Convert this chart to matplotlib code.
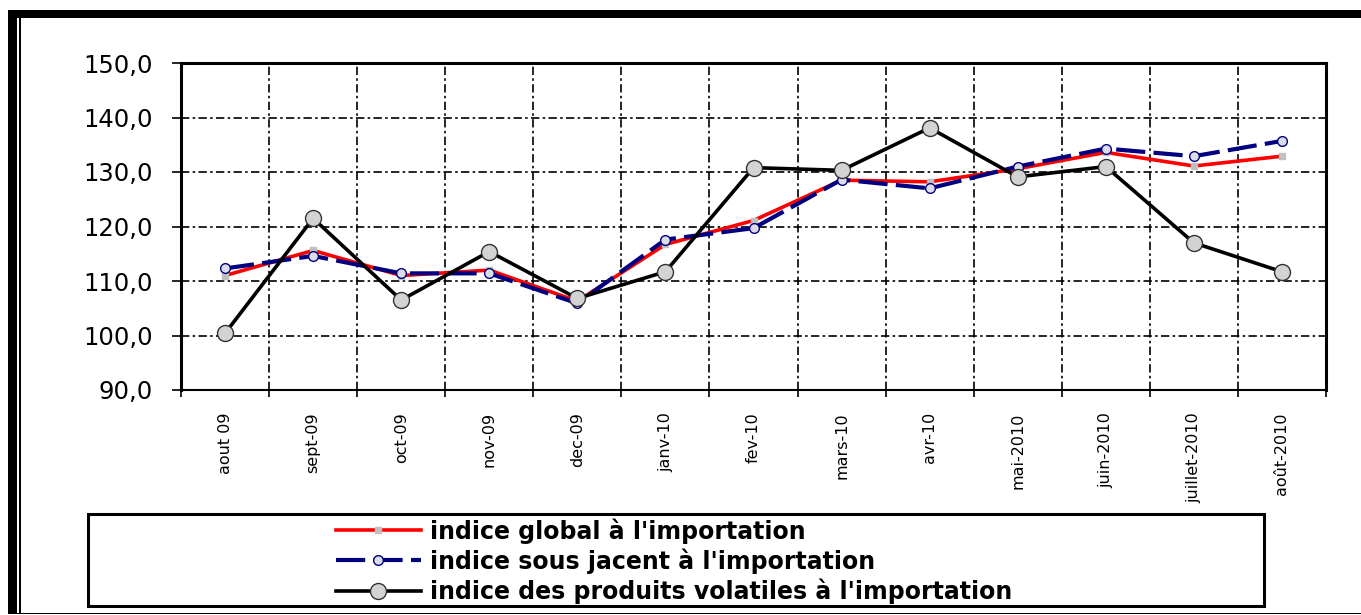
import matplotlib
matplotlib.use("Agg")
import matplotlib.pyplot as plt
from matplotlib.patches import Rectangle
from matplotlib.ticker import FixedLocator, MultipleLocator, FuncFormatter

plt.rcParams["font.family"] = ["DejaVu Sans"]

# ── données ──
mois = ["aout 09", "sept-09", "oct-09", "nov-09", "dec-09", "janv-10", "fev-10",
        "mars-10", "avr-10", "mai-2010", "juin-2010", "juillet-2010", "août-2010"]
indice_global = [111.0, 115.6, 111.0, 112.0, 106.3, 116.7, 121.1,
                 128.5, 128.2, 130.6, 133.6, 131.1, 132.9]
indice_sous_jacent = [112.3, 114.6, 111.4, 111.4, 105.9, 117.6, 119.7,
                      128.6, 127.0, 131.0, 134.3, 132.9, 135.7]
indice_volatils = [100.4, 121.5, 106.5, 115.4, 106.8, 111.7, 130.8,
                   130.3, 138.1, 129.1, 131.0, 117.0, 111.7]

W, H = 1361, 615
fig = plt.figure(figsize=(W / 100, H / 100), dpi=100)
ax = fig.add_axes([181 / W, 1 - 390 / H, (1326 - 181) / W, (390 - 63) / H])

x = list(range(len(mois)))

ax.plot(x, indice_global, color="#ff0000", lw=2.6, marker="s", ms=5,
        mfc="#c0c0c0", mec="#c0c0c0", label="indice global à l'importation", zorder=3)
ax.plot(x, indice_sous_jacent, color="#000080", lw=3, ls=(0, (7, 2)), marker="o", ms=7,
        mfc="#dcdce8", mec="#000080", mew=1, label="indice sous jacent à l'importation", zorder=4)
ax.plot(x, indice_volatils, color="black", lw=2.6, marker="o", ms=11.5,
        mfc="#d3d3d3", mec="#333333", mew=1, label="indice des produits volatiles à l'importation",
        zorder=5)

ax.set_xlim(-0.5, len(mois) - 0.5)
ax.set_ylim(90, 150)

# ticks
ax.yaxis.set_major_locator(MultipleLocator(10))
ax.yaxis.set_major_formatter(FuncFormatter(lambda v, p: f"{v:.1f}".replace(".", ",")))
ax.tick_params(axis="y", direction="out", length=6.5, width=1.2, pad=14, labelsize=17.5)

ax.set_xticks(x)
ax.set_xticklabels(mois, rotation=90, va="top", ha="center", fontsize=11.5)
ax.xaxis.set_minor_locator(FixedLocator([i + 0.5 for i in range(-1, len(mois))]))
ax.tick_params(axis="x", which="major", length=0, pad=16)
ax.tick_params(axis="x", which="minor", direction="out", length=5, width=1.2)

# grille pointillée
grid_style = dict(color="black", lw=1.2, ls=(0, (5, 2, 1.5, 2)), zorder=1)
for yv in range(100, 150, 10):
    ax.axhline(yv, **grid_style)
for i in range(len(mois) - 1):
    ax.axvline(i + 0.5, **grid_style)

for side in ["left", "top", "right"]:
    ax.spines[side].set_linewidth(2.2)
ax.spines["bottom"].set_linewidth(1.5)

# légende (cadre séparé, contenu centré)
fig.add_artist(Rectangle((88 / W, 1 - 606 / H), 1176 / W, 92 / H, transform=fig.transFigure,
                         fill=False, ec="black", lw=2.2))
leg = fig.legend(loc="center", bbox_to_anchor=(674 / W, 1 - 561 / H), frameon=False,
                 prop={"weight": "bold", "size": 17}, handlelength=3.6, handletextpad=0.38,
                 labelspacing=0.2, borderpad=0)

# cadre extérieur
fig.add_artist(Rectangle((8 / W, 1 - 18 / H), (W - 8) / W, 8 / H, transform=fig.transFigure,
                         fc="black", ec="none"))
fig.add_artist(Rectangle((8 / W, 1 - 614 / H), 9 / W, 604 / H, transform=fig.transFigure,
                         fc="black", ec="none"))
fig.add_artist(Rectangle((19 / W, 1 - 614 / H), 1.5 / W, 600 / H, transform=fig.transFigure,
                         fc="black", ec="none"))
fig.add_artist(Rectangle((8 / W, 1 - 614 / H), (W - 8) / W, 1.5 / H, transform=fig.transFigure,
                         fc="black", ec="none"))

fig.savefig("out.png", dpi=100)
